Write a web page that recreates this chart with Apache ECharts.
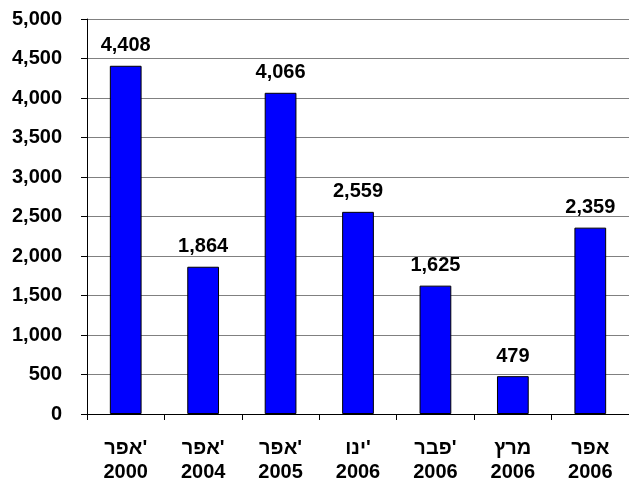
<!DOCTYPE html>
<html>
<head>
<meta charset="utf-8">
<script src="https://cdn.jsdelivr.net/npm/echarts@6/dist/echarts.min.js"></script>
<style>html,body{margin:0;padding:0;background:#fff}#c{width:629px;height:483px}</style>
</head>
<body>
<div id="c"></div>
<script>
const categories = ["אפר'\n2000", "אפר'\n2004", "אפר'\n2005", "ינו'\n2006", "פבר'\n2006", "מרץ\n2006", "אפר\n2006"];
const values = [4408, 1864, 4066, 2559, 1625, 479, 2359];
const yMin = 0, yMax = 5000, yStep = 500;

const fmt = v => Number(v).toLocaleString('en-US');
const FONT = 'Liberation Sans';
const chart = echarts.init(document.getElementById('c'), null, {renderer: 'canvas'});
chart.setOption({
  animation: false,
  backgroundColor: '#fff',
  grid: {left: 87, right: 0, top: 19, bottom: 69, containLabel: false, outerBoundsMode: 'none'},
  xAxis: {
    type: 'category',
    data: categories,
    axisLine: {lineStyle: {color: '#000', width: 1}},
    axisTick: {show: true, length: 6, lineStyle: {color: '#000'}},
    axisLabel: {color: '#000', fontFamily: FONT, fontWeight: 'bold', fontSize: 20, lineHeight: 24, margin: 22, interval: 0}
  },
  yAxis: {
    type: 'value', min: yMin, max: yMax, interval: yStep,
    axisLine: {show: true, lineStyle: {color: '#000', width: 1}},
    axisTick: {show: true, inside: false, length: 6, lineStyle: {color: '#000'}},
    splitLine: {show: true, lineStyle: {color: '#808080', width: 1}},
    axisLabel: {color: '#000', fontFamily: FONT, fontWeight: 'bold', fontSize: 20, margin: 25, formatter: fmt}
  },
  series: [{
    type: 'bar',
    data: values,
    barWidth: '41%',
    itemStyle: {color: '#0000FF', borderColor: '#000', borderWidth: 1},
    label: {show: true, position: 'top', distance: 10, color: '#000', fontFamily: FONT, fontWeight: 'bold', fontSize: 20, formatter: p => fmt(p.value)}
  }]
});
</script>
</body>
</html>
